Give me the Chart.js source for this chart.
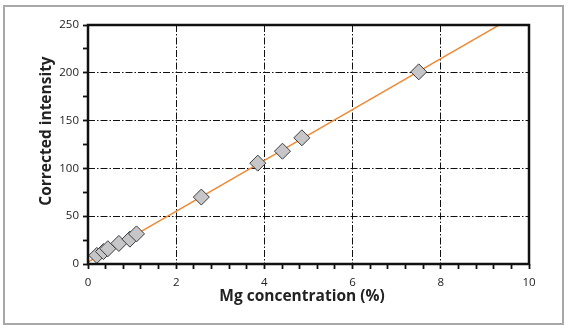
<!DOCTYPE html>
<html>
<head>
<meta charset="utf-8">
<script src="https://cdn.jsdelivr.net/npm/chart.js@4.4.1/dist/chart.umd.min.js"></script>
<style>
  html, body { margin: 0; padding: 0; background: #fff; }
  #frame {
    position: absolute; left: 3px; top: 5px;
    width: 557px; height: 316px;
    border: 2px solid #a8a8a8;
  }
  #wrap { position: absolute; left: 0; top: 0; width: 568px; height: 329px; }
</style>
</head>
<body>
<div id="frame"></div>
<div id="wrap"><canvas id="calChart" width="568" height="329"></canvas></div>
<script>
// Calibration points
const mgConcentration = [0.2, 0.35, 0.45, 0.7, 0.95, 1.1, 2.57, 3.85, 4.41, 4.85, 7.5];
const correctedIntensity = [9, 13, 16, 21.5, 26, 31.5, 70, 105.5, 118, 132, 201];

// Fitted calibration line
const fitSlope = 26.6;
const fitIntercept = 2;
const fitRange = [0, 10];

const xTicks = [0, 2, 4, 6, 8, 10];
const yTicks = [0, 50, 100, 150, 200, 250];

const xTitle = 'Mg concentration (%)';
const yTitle = 'Corrected intensity';

const fitLine = fitRange.map(x => ({ x: x, y: fitIntercept + fitSlope * x }));
const points = mgConcentration.map((x, i) => ({ x: x, y: correctedIntensity[i] }));

function buildTicks(max, step) {
    const out = [];
    for (let i = 0; i * step <= max + 1e-9; i++) out.push({ value: +(i * step).toFixed(4) });
    return out;
}

function isMajor(v, list) {
    return list.some(t => Math.abs(t - v) < 1e-6);
}

// black frame round the plot + axis titles
const framePlugin = {
    id: 'framePlugin',
    afterDatasetsDraw(chart) {
        const a = chart.chartArea;
        const ctx = chart.ctx;
        ctx.save();
        ctx.strokeStyle = '#111';
        ctx.lineWidth = 2.5;
        ctx.strokeRect(a.left, a.top, a.right - a.left, a.bottom - a.top);
        ctx.restore();
    },
    afterDraw(chart) {
        const ctx = chart.ctx;
        ctx.save();
        ctx.fillStyle = '#222';
        ctx.font = 'bold 15.5px "Open Sans"';
        ctx.textAlign = 'center';
        ctx.textBaseline = 'middle';
        ctx.fillText(xTitle, 302, 297);
        ctx.translate(47, 131);
        ctx.rotate(-Math.PI / 2);
        ctx.fillText(yTitle, 0, 0);
        ctx.restore();
    }
};

const ctx = document.getElementById('calChart').getContext('2d');

new Chart(ctx, {
    type: 'scatter',
    data: {
        datasets: [{
            type: 'line',
            data: fitLine,
            borderColor: '#ee8a36',
            borderWidth: 1.5,
            pointRadius: 0,
            order: 2
        }, {
            data: points,
            pointStyle: 'rectRot',
            pointRadius: 8,
            pointHoverRadius: 8,
            backgroundColor: '#c6c6c8',
            borderColor: '#3c3c3c',
            borderWidth: 1,
            order: 1
        }]
    },
    plugins: [framePlugin],
    options: {
        responsive: false,
        animation: false,
        events: [],
        layout: { padding: { left: 0, top: 25, right: 39, bottom: 0 } },
        plugins: { legend: { display: false }, tooltip: { enabled: false } },
        scales: {
            x: {
                type: 'linear',
                min: 0,
                max: 10,
                afterBuildTicks: s => { s.ticks = buildTicks(10, 0.4); },
                afterFit: s => { s.height = 65; },
                border: { display: false, dash: [7, 2, 1.5, 2] },
                grid: {
                    drawTicks: true,
                    tickLength: 5,
                    tickWidth: 1.8,
                    tickColor: '#111',
                    tickBorderDash: [],
                    lineWidth: 1,
                    color: c => (isMajor(c.tick.value, xTicks) && c.tick.value > 0 && c.tick.value < 10) ? '#111' : 'rgba(0,0,0,0)'
                },
                ticks: {
                    autoSkip: false,
                    maxRotation: 0,
                    padding: 7,
                    color: '#222',
                    font: { family: 'Open Sans', size: 11.5 },
                    callback: v => isMajor(v, xTicks) ? String(Math.round(v)) : ''
                }
            },
            y: {
                type: 'linear',
                min: 0,
                max: 250,
                afterBuildTicks: s => { s.ticks = buildTicks(250, 25); },
                afterFit: s => { s.width = 88; },
                border: { display: false, dash: [7, 2, 1.5, 2] },
                grid: {
                    drawTicks: true,
                    tickLength: 5,
                    tickWidth: 1.8,
                    tickColor: '#111',
                    tickBorderDash: [],
                    lineWidth: 1,
                    color: c => (isMajor(c.tick.value, yTicks) && c.tick.value > 0 && c.tick.value < 250) ? '#111' : 'rgba(0,0,0,0)'
                },
                ticks: {
                    autoSkip: false,
                    padding: 4,
                    color: '#222',
                    font: { family: 'Open Sans', size: 11.5 },
                    callback: v => isMajor(v, yTicks) ? String(Math.round(v)) : ''
                }
            }
        }
    }
});
</script>
</body>
</html>
